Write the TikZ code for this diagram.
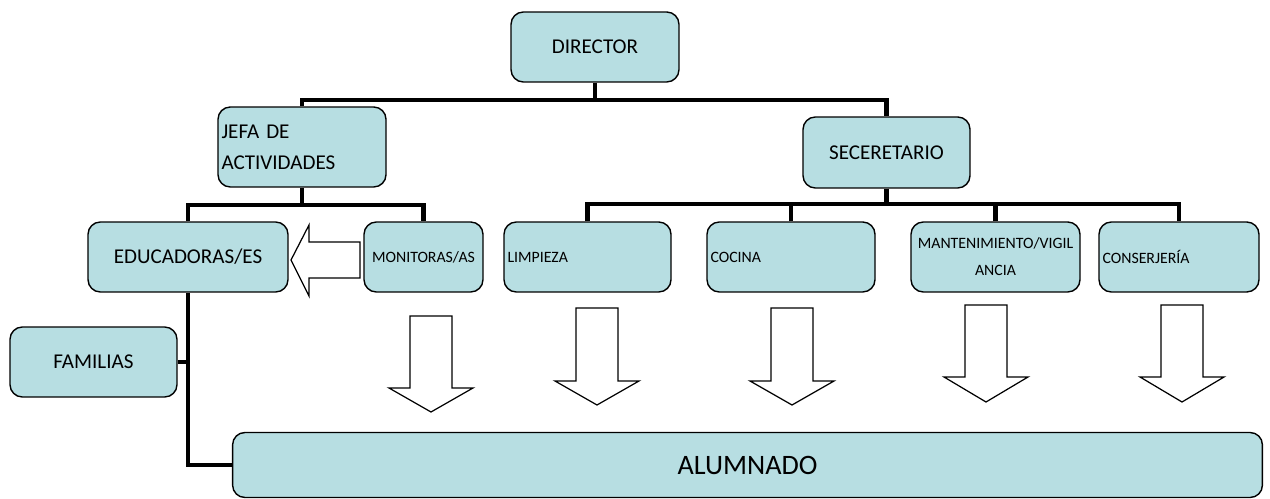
\documentclass[tikz,border=0pt]{standalone}
\usepackage{fontspec}
\setmainfont{Carlito}
\usetikzlibrary{positioning,calc}
\definecolor{cajaazul}{RGB}{183,222,226}

\begin{document}
\begin{tikzpicture}[x=0.02cm,y=-0.02cm,
    caja/.style={draw,fill=cajaazul,rounded corners=7pt,line width=0.8pt,inner sep=2pt},
    enlace/.style={line width=2.8pt},
    flecha/.style={draw,fill=white,line width=0.7pt,line join=miter}]
  \useasboundingbox (0,0) rectangle (1270,499);
  % cajas
  \node[caja,minimum width=3.36cm,minimum height=1.4cm,font=\fontsize{12}{14}\selectfont] (dir) at (595,47) {DIRECTOR};
  \node[caja,text width=3.22cm,minimum height=1.6cm,align=left,font=\fontsize{12}{17.6}\selectfont] (jefa) at (302,147) {JEFA DE\\ACTIVIDADES};
  \node[caja,minimum width=3.34cm,minimum height=1.42cm,font=\fontsize{12}{14}\selectfont] (sec) at (886.5,152.5) {SECERETARIO};
  \node[caja,minimum width=4cm,minimum height=1.4cm,font=\fontsize{12}{14}\selectfont] (edu) at (188,257) {EDUCADORAS/ES};
  \node[caja,minimum width=2.38cm,minimum height=1.4cm,font=\fontsize{9}{11}\selectfont] (mon) at (423.5,257) {MONITORAS/AS};
  \node[caja,text width=3.2cm,minimum height=1.4cm,align=left,font=\fontsize{9}{11}\selectfont] (lim) at (587.5,257) {LIMPIEZA};
  \node[caja,text width=3.22cm,minimum height=1.4cm,align=left,font=\fontsize{9}{11}\selectfont] (coc) at (791,257) {COCINA};
  \node[caja,text width=3.24cm,minimum height=1.4cm,align=center,font=\fontsize{9}{15.3}\selectfont] (mant) at (995.5,257) {MANTENIMIENTO/VIGIL\\ANCIA};
  \node[caja,text width=3.06cm,minimum height=1.4cm,align=left,font=\fontsize{9}{11}\selectfont] (cons) at (1179,257) {CONSERJERÍA};
  \node[caja,minimum width=3.34cm,minimum height=1.4cm,font=\fontsize{12}{14}\selectfont] (fam) at (93.5,362) {FAMILIAS};
  \node[caja,minimum width=20.6cm,minimum height=1.3cm,font=\fontsize{16}{18}\selectfont] (alu) at (747.5,465) {ALUMNADO};

  % lineas
  \coordinate (bus1) at (595,100);
  \coordinate (bus2) at (302,205);
  \coordinate (y3) at (0,204);
  \coordinate (bus3) at (sec.south |- y3);
  \draw[enlace] (dir.south) -- (bus1);
  \draw[enlace] (jefa.north) |- (bus1) -| (sec.north);
  \draw[enlace] (jefa.south) -- (bus2);
  \draw[enlace] (edu.north) |- (bus2) -| (mon.north);
  \draw[enlace] (sec.south) -- (bus3);
  \draw[enlace] (lim.north) |- (bus3) -| (cons.north);
  \draw[enlace] (coc.north) -- (coc.north |- bus3);
  \draw[enlace] (mant.north) -- (mant.north |- bus3);
  \draw[enlace] (edu.south) |- (alu.west);
  \draw[enlace] (fam.east) -- (fam.east -| edu.south);

  % flechas
  \draw[flecha] (360,242) -- (309,242) -- (309,225) -- (291,260) -- (309,296) -- (309,278) -- (360,278) -- cycle;
  \foreach \ax/\ay/\ah/\at in {431/316/388/412, 597/308/381/405, 792/308/381/405, 986/305/377/402, 1182/305/377/402}
    \draw[flecha] ({\ax-21},\ay) -- ({\ax+21},\ay) -- ({\ax+21},\ah) -- ({\ax+42},\ah) -- (\ax,\at)
      -- ({\ax-42},\ah) -- ({\ax-21},\ah) -- cycle;
\end{tikzpicture}
\end{document}
